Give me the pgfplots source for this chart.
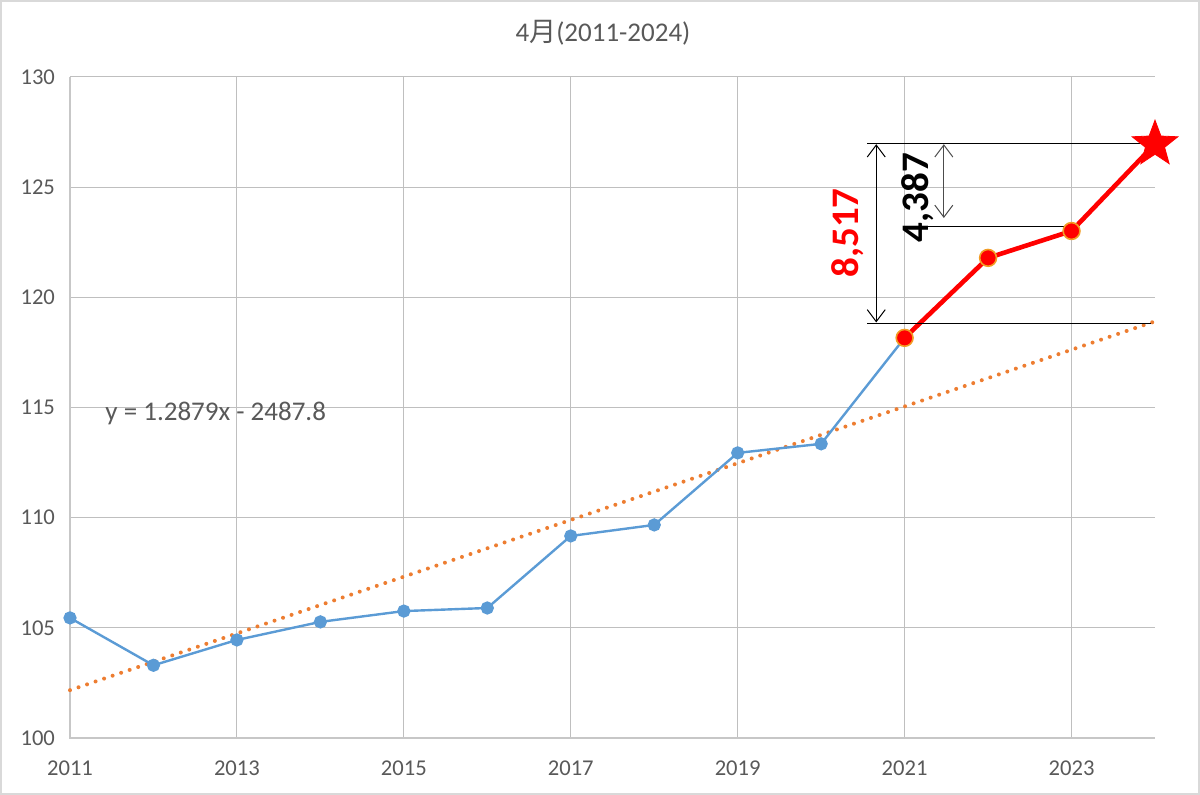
\documentclass[border=0pt]{standalone}
\usepackage{pgfplots}
\pgfplotsset{compat=1.18}
\usepackage{fontspec}
\setmainfont{Carlito}
\newfontfamily\cjk{Noto Sans CJK JP}
\usetikzlibrary{arrows.meta}
\definecolor{txt}{HTML}{595959}
\definecolor{grid}{HTML}{D9D9D9}
\definecolor{blueline}{HTML}{5B9BD5}
\definecolor{orangeline}{HTML}{ED7D31}
\definecolor{frame}{HTML}{D9D9D9}
\pgfdeclareplotmark{fstar}{%
  \pgfpathmoveto{\pgfpointpolar{90}{\pgfplotmarksize}}%
  \pgfpathlineto{\pgfpointpolar{126}{0.42\pgfplotmarksize}}%
  \pgfpathlineto{\pgfpointpolar{162}{\pgfplotmarksize}}%
  \pgfpathlineto{\pgfpointpolar{198}{0.42\pgfplotmarksize}}%
  \pgfpathlineto{\pgfpointpolar{234}{\pgfplotmarksize}}%
  \pgfpathlineto{\pgfpointpolar{270}{0.42\pgfplotmarksize}}%
  \pgfpathlineto{\pgfpointpolar{306}{\pgfplotmarksize}}%
  \pgfpathlineto{\pgfpointpolar{342}{0.42\pgfplotmarksize}}%
  \pgfpathlineto{\pgfpointpolar{18}{\pgfplotmarksize}}%
  \pgfpathlineto{\pgfpointpolar{54}{0.42\pgfplotmarksize}}%
  \pgfpathclose
  \pgfusepathqfillstroke}
\begin{document}
\begin{tikzpicture}
\useasboundingbox (-35pt,-28.5pt) rectangle (565pt,369pt);
\draw[frame, line width=1pt] (-34.5pt,-28pt) rectangle (564.5pt,368.5pt);
\begin{axis}[
  at={(0,0)}, anchor=south west,
  scale only axis, width=542.5pt, height=330.5pt,
  xmin=2011, xmax=2024, ymin=100, ymax=130,
  xtick={2011,2013,...,2023}, ytick={100,105,...,130},
  xticklabel style={/pgf/number format/1000 sep={}, yshift=-8pt},
  yticklabel style={xshift=-4pt},
  /pgf/number format/assume math mode=true,
  tick label style={font=\fontsize{11.3}{13}\selectfont, text=txt},
  major tick length=0pt,
  xmajorgrids, ymajorgrids,
  grid style={grid, line width=0.5pt},
  axis line style={draw=none},
  clip=false,
]
\draw[grid!80!gray, line width=0.6pt] (axis cs:2011,130) -- (axis cs:2011,100) -- (axis cs:2024,100);
% trend line
\addplot[orangeline, line width=2pt, line cap=round, dash pattern=on 0pt off 4.5pt] coordinates {(2011,102.17) (2024,118.91)};
% blue series
\addplot[blueline, line width=1.2pt, mark=*, mark size=2.7pt, mark options={fill=blueline, draw=blueline}] coordinates {
(2011,105.45) (2012,103.30) (2013,104.45) (2014,105.27) (2015,105.76) (2016,105.90)
(2017,109.17) (2018,109.67) (2019,112.94) (2020,113.35) (2021,118.16)};
% red series
\addplot[red, line width=2.3pt, mark=*, mark size=4.2pt, mark options={fill=red, draw=orangeline!75!yellow, line width=0.8pt}] coordinates {
(2021,118.16) (2022,121.79) (2023,123.01) (2024,126.96)};
\addplot[red, only marks, mark=fstar, mark size=12pt, mark options={fill=red, draw=red, line width=0.4pt, line join=miter}] coordinates {(2024,126.95)};
% annotation lines
\draw[black, line width=0.6pt] (axis cs:2020.55,126.99) -- (axis cs:2024.0,126.99);
\draw[black, line width=0.6pt] (axis cs:2020.55,118.82) -- (axis cs:2023.95,118.82);
\draw[black, line width=0.6pt] (axis cs:2021.24,123.21) -- (axis cs:2022.98,123.21);
\draw[black, line width=0.5pt, {Straight Barb[length=6pt,width=9pt]}-{Straight Barb[length=6pt,width=9pt]}] (axis cs:2020.66,126.95) -- (axis cs:2020.66,118.86);
\draw[black!70, line width=0.5pt, {Straight Barb[length=6pt,width=9pt]}-{Straight Barb[length=6pt,width=9pt]}] (axis cs:2021.47,126.95) -- (axis cs:2021.47,123.6);
\node[rotate=90, text=red, font=\fontsize{19.5}{22}\bfseries] at (axis cs:2020.32,122.92) {8,517};
\node[rotate=90, text=black, font=\fontsize{19.5}{22}\bfseries] at (axis cs:2021.16,124.53) {4,387};
\node[anchor=west, text=txt, font=\fontsize{13.5}{15}\selectfont, inner sep=0pt] at (axis cs:2011.42,114.75) {y = 1.2879x - 2487.8};
\end{axis}
\node[text=txt, font=\fontsize{13.5}{15}\selectfont] at (266.5pt,352.5pt) {4{\cjk 月}(2011-2024)};
\end{tikzpicture}
\end{document}
